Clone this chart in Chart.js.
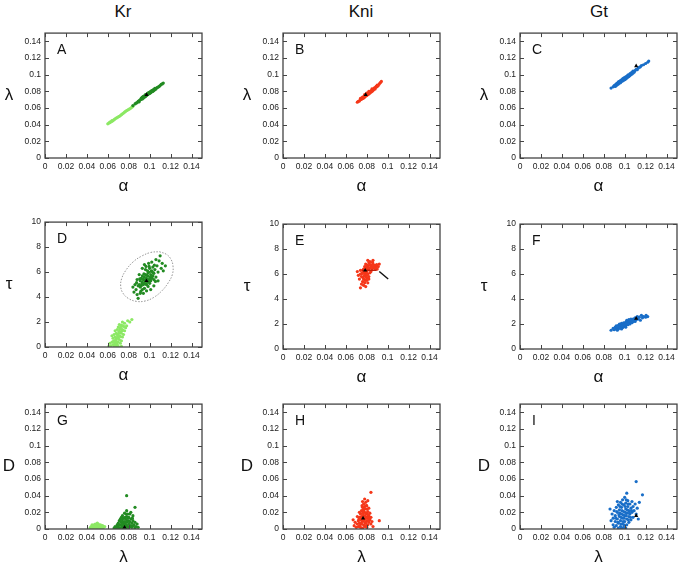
<!DOCTYPE html>
<html>
<head>
<meta charset="utf-8">
<title>Kr / Kni / Gt parameter scatter</title>
<script src="https://cdn.jsdelivr.net/npm/chart.js@4.4.1/dist/chart.umd.min.js"></script>
<style>
  body { margin: 0; background: #fff; width: 682px; height: 568px; overflow: hidden; position: relative;
         font-family: "Liberation Sans", Arial, sans-serif; }
  .col-title { position: absolute; top: 2px; width: 120px; margin-left: -60px; text-align: center;
               font-size: 17px; line-height: 20px; color: #111; }
  canvas { position: absolute; }
</style>
</head>
<body>
<div class="col-title" style="left:123px">Kr</div>
<div class="col-title" style="left:361px">Kni</div>
<div class="col-title" style="left:599px">Gt</div>

<script>
const FONT = '"Liberation Sans", Arial, sans-serif';

// tick labels
const rateTicks = [0, 0.02, 0.04, 0.06, 0.08, 0.1, 0.12, 0.14];
const tauTicks = [0, 2, 4, 6, 8, 10];

// A: alpha vs lambda (Kr)
const krLightA = [[0.060,0.041],[0.061,0.042],[0.062,0.0425],[0.062,0.043],[0.063,0.0435],[0.064,0.044],[0.064,0.045],[0.065,0.045],[0.066,0.046],[0.067,0.047],[0.068,0.048],[0.069,0.0485],[0.070,0.0495],[0.071,0.050],[0.072,0.051],[0.073,0.052],[0.074,0.053],[0.075,0.054],[0.076,0.055],[0.077,0.056],[0.078,0.057],[0.079,0.0575],[0.080,0.0585],[0.081,0.059],[0.082,0.060],[0.083,0.061],[0.084,0.062]];
const krDarkA = [[0.084,0.063],[0.086,0.065],[0.087,0.066],[0.088,0.0665],[0.089,0.068],[0.090,0.069],[0.090,0.0675],[0.091,0.070],[0.092,0.0705],[0.092,0.072],[0.093,0.071],[0.093,0.073],[0.094,0.072],[0.094,0.074],[0.095,0.073],[0.095,0.0745],[0.096,0.074],[0.096,0.076],[0.097,0.075],[0.097,0.0765],[0.098,0.076],[0.098,0.0775],[0.099,0.077],[0.099,0.0785],[0.100,0.0775],[0.100,0.079],[0.101,0.0785],[0.101,0.080],[0.102,0.0795],[0.102,0.081],[0.103,0.080],[0.103,0.0815],[0.104,0.081],[0.104,0.0825],[0.105,0.082],[0.105,0.0835],[0.106,0.083],[0.107,0.0845],[0.108,0.085],[0.109,0.086],[0.110,0.087],[0.111,0.0885],[0.112,0.089],[0.113,0.090]];
const krMarkA = [[0.097,0.076]];

// B: alpha vs lambda (Kni)
const kniB = [[0.071,0.067],[0.072,0.068],[0.073,0.0685],[0.074,0.070],[0.074,0.0715],[0.075,0.0705],[0.075,0.072],[0.076,0.0715],[0.076,0.073],[0.077,0.072],[0.077,0.0735],[0.078,0.073],[0.078,0.0745],[0.078,0.076],[0.079,0.0745],[0.079,0.076],[0.080,0.075],[0.080,0.0765],[0.080,0.078],[0.081,0.076],[0.081,0.0775],[0.082,0.077],[0.082,0.0785],[0.082,0.080],[0.083,0.078],[0.083,0.0795],[0.084,0.079],[0.084,0.0805],[0.085,0.080],[0.085,0.0815],[0.085,0.083],[0.086,0.081],[0.086,0.0825],[0.087,0.0825],[0.087,0.084],[0.088,0.083],[0.088,0.0845],[0.089,0.085],[0.089,0.086],[0.090,0.086],[0.090,0.0875],[0.091,0.087],[0.092,0.089],[0.093,0.0905],[0.094,0.092]];
const kniMarkB = [[0.079,0.076]];

// C: alpha vs lambda (Gt)
const gtC = [[0.087,0.084],[0.089,0.0855],[0.090,0.087],[0.091,0.086],[0.091,0.088],[0.092,0.087],[0.092,0.089],[0.093,0.088],[0.093,0.090],[0.094,0.089],[0.094,0.0915],[0.095,0.090],[0.095,0.092],[0.096,0.0905],[0.096,0.093],[0.097,0.092],[0.097,0.094],[0.098,0.0925],[0.098,0.095],[0.099,0.0935],[0.099,0.096],[0.100,0.094],[0.100,0.0965],[0.101,0.095],[0.101,0.0975],[0.102,0.096],[0.102,0.098],[0.103,0.097],[0.103,0.0995],[0.104,0.098],[0.104,0.100],[0.105,0.099],[0.105,0.101],[0.106,0.100],[0.106,0.102],[0.107,0.101],[0.107,0.103],[0.108,0.102],[0.108,0.1045],[0.109,0.103],[0.110,0.105],[0.111,0.1065],[0.112,0.106],[0.113,0.108],[0.114,0.109],[0.115,0.1095],[0.116,0.111],[0.118,0.112],[0.120,0.1135],[0.122,0.115],[0.123,0.1165]];
const gtMarkC = [[0.111,0.1105]];

// D: alpha vs tau (Kr)
const krLightD = [[0.063,0.1],[0.065,0.2],[0.066,0.05],[0.067,0.3],[0.068,0.1],[0.069,0.2],[0.070,0.05],[0.064,0.4],[0.066,0.5],[0.068,0.45],[0.070,0.4],[0.072,0.3],[0.065,0.7],[0.067,0.8],[0.069,0.7],[0.071,0.6],[0.073,0.5],[0.066,1.0],[0.068,1.1],[0.070,0.95],[0.072,0.85],[0.074,0.8],[0.067,1.3],[0.069,1.4],[0.071,1.25],[0.073,1.1],[0.075,1.0],[0.070,1.6],[0.072,1.5],[0.074,1.4],[0.076,1.3],[0.071,1.8],[0.073,1.75],[0.075,1.65],[0.077,1.55],[0.074,2.0],[0.076,1.9],[0.078,1.7],[0.062,0.3],[0.064,0.9],[0.079,2.1],[0.081,2.0],[0.083,2.2],[0.061,0.05],[0.073,0.05],[0.069,1.0],[0.071,1.1],[0.068,0.65],[0.070,0.75],[0.072,1.2],[0.0675,0.55],[0.0695,0.85],[0.0705,1.2],[0.0715,1.45],[0.0725,1.65],[0.0685,0.35],[0.0665,0.15],[0.0735,1.3],[0.0745,1.7],[0.0655,0.45]];
const krDarkD = [[0.090,5.0],[0.091,5.3],[0.092,4.9],[0.092,5.5],[0.093,5.2],[0.093,5.7],[0.094,5.0],[0.094,5.4],[0.095,5.6],[0.095,5.1],[0.096,5.3],[0.096,5.8],[0.097,5.0],[0.097,5.5],[0.098,5.2],[0.098,5.7],[0.099,5.4],[0.099,6.0],[0.100,5.1],[0.100,5.6],[0.101,5.8],[0.101,5.3],[0.102,5.5],[0.102,6.1],[0.103,5.7],[0.104,5.9],[0.104,5.4],[0.105,6.2],[0.095,4.7],[0.093,4.6],[0.091,4.8],[0.098,6.1],[0.096,6.2],[0.100,6.3],[0.103,6.4],[0.085,4.4],[0.086,5.0],[0.087,4.6],[0.088,5.4],[0.088,4.2],[0.089,4.9],[0.090,5.8],[0.089,3.9],[0.091,4.3],[0.094,4.3],[0.097,4.5],[0.093,6.3],[0.095,6.6],[0.099,6.7],[0.102,6.8],[0.106,5.6],[0.107,6.5],[0.108,6.0],[0.109,6.9],[0.110,7.3],[0.111,6.3],[0.112,6.7],[0.113,6.1],[0.106,7.0],[0.104,4.9],[0.101,4.6],[0.084,4.8],[0.115,6.5],[0.108,5.3],[0.0935,5.45],[0.0965,5.05],[0.0985,5.95],[0.1005,5.45],[0.0955,5.35],[0.0975,5.75],[0.0995,5.25],[0.1015,6.05],[0.0945,5.85],[0.0925,5.05],[0.1035,5.95],[0.0985,4.85],[0.1025,5.65],[0.0905,5.45],[0.0965,6.45],[0.1045,6.55],[0.0875,5.15],[0.0915,4.45],[0.1055,5.25],[0.0995,6.45]];
const krMarkD = [[0.097,5.3]];
const krEllipseD = [[0.1092,7.63],[0.1162,7.41],[0.1204,7.01],[0.1223,6.48],[0.1217,5.81],[0.1178,5.15],[0.1115,4.48],[0.1035,3.95],[0.0955,3.68],[0.0876,3.65],[0.0796,3.89],[0.0742,4.35],[0.0723,4.88],[0.0733,5.49],[0.0774,6.16],[0.0844,6.83],[0.0924,7.28],[0.1010,7.57],[0.1092,7.63]];

// E: alpha vs tau (Kni)
const kniE = [[0.077,6.4],[0.078,6.6],[0.079,6.8],[0.080,6.5],[0.081,6.7],[0.082,6.9],[0.083,6.5],[0.084,6.7],[0.085,6.6],[0.086,6.8],[0.087,6.5],[0.088,6.7],[0.089,6.6],[0.090,6.4],[0.083,7.0],[0.081,7.1],[0.086,7.1],[0.079,6.4],[0.082,6.4],[0.085,6.4],[0.088,6.45],[0.091,6.6],[0.092,6.8],[0.074,6.0],[0.075,5.8],[0.076,6.1],[0.077,5.6],[0.078,5.9],[0.079,6.1],[0.080,5.7],[0.081,6.0],[0.082,5.8],[0.076,5.4],[0.078,5.3],[0.080,5.5],[0.077,5.1],[0.079,5.0],[0.075,5.2],[0.073,5.6],[0.072,5.9],[0.074,6.3],[0.083,6.1],[0.084,6.2],[0.081,5.3],[0.078,6.2],[0.076,6.3],[0.080,6.2],[0.071,6.2],[0.082,5.6],[0.074,4.9],[0.0785,6.0],[0.0795,5.75],[0.0775,5.85],[0.0805,6.35],[0.0835,6.75],[0.0845,6.55],[0.0865,6.6],[0.0815,6.55],[0.0795,6.6],[0.0875,6.7],[0.0775,6.15],[0.0765,5.7],[0.0785,5.5],[0.0755,6.05],[0.0895,6.75],[0.0855,6.95],[0.0805,5.95]];
const kniMarkE = [[0.0785,6.3]];
const kniBarE = [[0.0755,6.3],[0.0895,6.3]];
const kniPointerE = [[0.092,6.2],[0.1005,5.6]];

// F: alpha vs tau (Gt)
const gtF = [[0.087,1.5],[0.089,1.65],[0.090,1.55],[0.091,1.75],[0.092,1.6],[0.092,1.85],[0.093,1.7],[0.094,1.9],[0.094,1.6],[0.095,1.8],[0.095,2.0],[0.096,1.7],[0.096,1.9],[0.097,2.05],[0.097,1.8],[0.098,1.95],[0.098,1.7],[0.099,2.1],[0.099,1.85],[0.100,2.0],[0.100,1.8],[0.101,2.15],[0.101,1.9],[0.102,2.05],[0.102,2.3],[0.103,1.95],[0.103,2.2],[0.104,2.1],[0.104,2.35],[0.105,2.0],[0.105,2.25],[0.106,2.15],[0.106,2.4],[0.107,2.3],[0.107,2.1],[0.108,2.4],[0.108,2.2],[0.109,2.3],[0.110,2.5],[0.110,2.2],[0.111,2.35],[0.112,2.6],[0.113,2.4],[0.114,2.55],[0.115,2.3],[0.116,2.7],[0.117,2.5],[0.118,2.6],[0.120,2.55],[0.122,2.6],[0.093,1.5],[0.097,1.6],[0.101,1.75],[0.0985,1.88],[0.1005,1.92],[0.1025,2.12],[0.1045,2.22],[0.1065,2.28],[0.0965,1.82],[0.0995,1.98],[0.1035,2.02],[0.1055,2.32],[0.1085,2.32],[0.0945,1.75],[0.1015,2.02],[0.1075,2.18],[0.0955,1.68],[0.1095,2.42],[0.1115,2.48],[0.1205,2.7]];
const gtMarkF = [[0.111,2.44]];

// G: lambda vs D (Kr)
const krLightG = [[0.043,0.001],[0.044,0.003],[0.045,0.002],[0.046,0.004],[0.046,0.001],[0.047,0.005],[0.047,0.002],[0.048,0.003],[0.048,0.006],[0.049,0.001],[0.049,0.004],[0.050,0.002],[0.050,0.005],[0.051,0.003],[0.051,0.006],[0.052,0.001],[0.052,0.004],[0.053,0.002],[0.053,0.005],[0.054,0.003],[0.055,0.001],[0.055,0.004],[0.056,0.002],[0.057,0.003],[0.045,0.005],[0.050,0.007],[0.048,0.0005],[0.054,0.0005]];
const krDarkG = [[0.066,0.001],[0.067,0.003],[0.068,0.001],[0.069,0.005],[0.069,0.002],[0.070,0.007],[0.070,0.003],[0.071,0.010],[0.071,0.001],[0.072,0.005],[0.072,0.012],[0.073,0.002],[0.073,0.008],[0.074,0.004],[0.074,0.011],[0.074,0.016],[0.075,0.006],[0.075,0.001],[0.075,0.013],[0.076,0.009],[0.076,0.003],[0.076,0.019],[0.077,0.005],[0.077,0.012],[0.077,0.001],[0.078,0.008],[0.078,0.015],[0.078,0.022],[0.079,0.003],[0.079,0.010],[0.080,0.006],[0.080,0.014],[0.080,0.001],[0.081,0.009],[0.081,0.018],[0.082,0.004],[0.082,0.012],[0.083,0.007],[0.083,0.002],[0.084,0.010],[0.084,0.016],[0.085,0.005],[0.086,0.008],[0.086,0.001],[0.087,0.003],[0.088,0.006],[0.089,0.002],[0.078,0.040],[0.086,0.026],[0.073,0.014],[0.079,0.018],[0.082,0.020],[0.0745,0.008],[0.0765,0.014],[0.0755,0.004],[0.0775,0.009],[0.0785,0.004],[0.0795,0.013],[0.0805,0.009],[0.0735,0.006],[0.0725,0.009],[0.0815,0.003],[0.0775,0.018],[0.0705,0.005],[0.0835,0.013],[0.0765,0.006],[0.0845,0.004]];
const krMarkG = [[0.076,0.002]];

// H: lambda vs D (Kni)
const kniH = [[0.070,0.002],[0.071,0.006],[0.072,0.010],[0.072,0.003],[0.073,0.014],[0.073,0.007],[0.074,0.018],[0.074,0.011],[0.074,0.002],[0.075,0.022],[0.075,0.015],[0.075,0.006],[0.076,0.026],[0.076,0.019],[0.076,0.009],[0.076,0.001],[0.077,0.030],[0.077,0.023],[0.077,0.016],[0.077,0.005],[0.078,0.027],[0.078,0.020],[0.078,0.012],[0.078,0.003],[0.079,0.032],[0.079,0.024],[0.079,0.014],[0.079,0.007],[0.080,0.028],[0.080,0.018],[0.080,0.010],[0.080,0.002],[0.081,0.021],[0.081,0.013],[0.081,0.005],[0.082,0.025],[0.082,0.016],[0.082,0.008],[0.083,0.019],[0.083,0.011],[0.084,0.014],[0.084,0.006],[0.085,0.009],[0.069,0.008],[0.068,0.004],[0.071,0.015],[0.073,0.020],[0.078,0.036],[0.076,0.033],[0.081,0.034],[0.084,0.044],[0.092,0.010],[0.086,0.003],[0.067,0.011],[0.0755,0.011],[0.0765,0.016],[0.0775,0.011],[0.0785,0.016],[0.0795,0.019],[0.0805,0.014],[0.0745,0.014],[0.0735,0.004],[0.0775,0.025],[0.0785,0.008],[0.0795,0.004],[0.0815,0.010],[0.0765,0.022],[0.0755,0.028],[0.0805,0.024],[0.0825,0.013],[0.0745,0.007],[0.0815,0.017],[0.0795,0.028],[0.0725,0.012]];
const kniMarkH = [[0.0765,0.013]];

// I: lambda vs D (Gt)
const gtI = [[0.087,0.010],[0.088,0.018],[0.089,0.005],[0.089,0.013],[0.090,0.022],[0.090,0.002],[0.091,0.009],[0.091,0.016],[0.092,0.026],[0.092,0.004],[0.093,0.012],[0.093,0.020],[0.094,0.029],[0.094,0.001],[0.094,0.007],[0.095,0.015],[0.095,0.023],[0.096,0.032],[0.096,0.010],[0.096,0.003],[0.097,0.018],[0.097,0.026],[0.098,0.006],[0.098,0.013],[0.098,0.035],[0.099,0.021],[0.099,0.029],[0.099,0.002],[0.100,0.009],[0.100,0.016],[0.100,0.038],[0.101,0.024],[0.101,0.031],[0.102,0.005],[0.102,0.012],[0.102,0.019],[0.103,0.027],[0.103,0.034],[0.104,0.015],[0.104,0.022],[0.104,0.008],[0.105,0.030],[0.105,0.018],[0.106,0.025],[0.106,0.011],[0.107,0.020],[0.107,0.033],[0.108,0.014],[0.108,0.027],[0.109,0.022],[0.110,0.030],[0.111,0.018],[0.112,0.025],[0.113,0.012],[0.086,0.024],[0.093,0.033],[0.111,0.057],[0.117,0.041],[0.102,0.043],[0.114,0.032],[0.097,0.001],[0.101,0.001],[0.0955,0.019],[0.0975,0.022],[0.0985,0.017],[0.0995,0.013],[0.1005,0.020],[0.1015,0.016],[0.0965,0.014],[0.0945,0.017],[0.1025,0.023],[0.1035,0.011],[0.1005,0.027],[0.0985,0.009],[0.0975,0.030],[0.1045,0.019],[0.0935,0.008],[0.1055,0.014],[0.0925,0.021],[0.1015,0.035],[0.0995,0.005],[0.1035,0.030],[0.0955,0.027],[0.0915,0.013],[0.1065,0.022],[0.0965,0.006]];
const gtMarkI = [[0.111,0.016]];

const DARK_GREEN = 'rgb(34,139,34)';
const LIGHT_GREEN = 'rgb(140,232,100)';
const RED = 'rgb(245,55,25)';
const BLUE = 'rgb(25,110,200)';

const panels = [
    { letter: 'A', left: 45,  top: 32,  x: 'α', y: 'λ', tau: false,
      sets: [ { data: krMarkA, kind: 'mark' }, { data: krDarkA, color: DARK_GREEN }, { data: krLightA, color: LIGHT_GREEN } ] },
    { letter: 'B', left: 283, top: 32,  x: 'α', y: 'λ', tau: false,
      sets: [ { data: kniMarkB, kind: 'mark' }, { data: kniB, color: RED } ] },
    { letter: 'C', left: 520, top: 32,  x: 'α', y: 'λ', tau: false,
      sets: [ { data: gtMarkC, kind: 'mark' }, { data: gtC, color: BLUE } ] },
    { letter: 'D', left: 45,  top: 221, x: 'α', y: 'τ', tau: true,
      sets: [ { data: krMarkD, kind: 'mark' }, { data: krEllipseD, kind: 'ellipse' }, { data: krDarkD, color: DARK_GREEN }, { data: krLightD, color: LIGHT_GREEN } ] },
    { letter: 'E', left: 283, top: 223, x: 'α', y: 'τ', tau: true,
      sets: [ { data: kniMarkE, kind: 'mark' }, { data: kniPointerE, kind: 'line', color: '#111' }, { data: kniBarE, kind: 'line', color: 'rgb(190,30,10)' }, { data: kniE, color: RED } ] },
    { letter: 'F', left: 520, top: 223, x: 'α', y: 'τ', tau: true,
      sets: [ { data: gtMarkF, kind: 'mark' }, { data: gtF, color: BLUE } ] },
    { letter: 'G', left: 45,  top: 403, x: 'λ', y: 'D', tau: false,
      sets: [ { data: krMarkG, kind: 'mark' }, { data: krDarkG, color: DARK_GREEN }, { data: krLightG, color: LIGHT_GREEN } ] },
    { letter: 'H', left: 283, top: 403, x: 'λ', y: 'D', tau: false,
      sets: [ { data: kniMarkH, kind: 'mark' }, { data: kniH, color: RED } ] },
    { letter: 'I', left: 520, top: 403, x: 'λ', y: 'D', tau: false,
      sets: [ { data: gtMarkI, kind: 'mark' }, { data: gtI, color: BLUE } ] }
];

// box, inward ticks on all sides, panel letter, upright y title
const framePlugin = {
    id: 'frame',
    afterDraw(chart, args, opts) {
        const { ctx, chartArea: a, scales } = chart;
        ctx.save();
        ctx.strokeStyle = '#444';
        ctx.lineWidth = 1;
        ctx.beginPath();
        scales.x.ticks.forEach(t => {
            const px = Math.round(scales.x.getPixelForValue(t.value)) + 0.5;
            ctx.moveTo(px, a.bottom); ctx.lineTo(px, a.bottom - 4);
            ctx.moveTo(px, a.top); ctx.lineTo(px, a.top + 4);
        });
        scales.y.ticks.forEach(t => {
            const py = Math.round(scales.y.getPixelForValue(t.value)) + 0.5;
            ctx.moveTo(a.left, py); ctx.lineTo(a.left + 4, py);
            ctx.moveTo(a.right, py); ctx.lineTo(a.right - 4, py);
        });
        ctx.stroke();
        ctx.lineWidth = 1.3;
        ctx.strokeRect(a.left, a.top, a.right - a.left, a.bottom - a.top);

        ctx.fillStyle = '#111';
        ctx.font = '14px ' + FONT;
        ctx.textAlign = 'left';
        ctx.textBaseline = 'alphabetic';
        ctx.fillText(opts.letter, a.left + 12, a.top + 21);

        ctx.font = '17px ' + FONT;
        ctx.textAlign = 'center';
        ctx.textBaseline = 'middle';
        ctx.fillText(opts.yTitle, a.left - 36, (a.top + a.bottom) / 2);
        ctx.restore();
    }
};

function toPoints(pairs) {
    return pairs.map(p => ({ x: p[0], y: p[1] }));
}

function buildDataset(set, index) {
    const base = { data: toPoints(set.data), order: index };
    if (set.kind === 'mark') {
        return Object.assign(base, { pointStyle: 'triangle', pointRadius: 2.4, backgroundColor: '#000', borderColor: '#000', borderWidth: 0 });
    }
    if (set.kind === 'ellipse') {
        return Object.assign(base, { showLine: true, tension: 0.4, pointRadius: 0, borderColor: '#8a8a8a', borderWidth: 0.9, borderDash: [1.5, 1.5] });
    }
    if (set.kind === 'line') {
        return Object.assign(base, { showLine: true, pointRadius: 0, borderColor: set.color, borderWidth: 1.4 });
    }
    return Object.assign(base, { pointRadius: 1.6, pointBorderWidth: 0, backgroundColor: set.color, borderColor: set.color });
}

function tickAxis(values, max) {
    return {
        type: 'linear', min: 0, max: max, bounds: 'data',
        afterBuildTicks: scale => { scale.ticks = values.map(v => ({ value: v })); },
        grid: { display: false, drawTicks: false },
        border: { display: false },
        ticks: {
            autoSkip: false, maxRotation: 0, padding: 4, color: '#222',
            font: { family: FONT, size: 8.5 },
            callback: v => String(+v.toFixed(2))
        }
    };
}

function renderPanel(panel) {
    const canvas = document.createElement('canvas');
    canvas.width = 206;
    canvas.height = 174;
    canvas.style.left = (panel.left - 45) + 'px';
    canvas.style.top = (panel.top - 8) + 'px';
    canvas.style.width = '206px';
    canvas.style.height = '174px';
    document.body.appendChild(canvas);

    const xAxis = tickAxis(rateTicks, 0.15);
    xAxis.afterFit = scale => { scale.height = 40; };
    xAxis.title = { display: true, text: panel.x, color: '#111', font: { family: FONT, size: 17 }, padding: { top: 0, bottom: 1 } };

    const yAxis = panel.tau ? tickAxis(tauTicks, 10) : tickAxis(rateTicks, 0.15);
    yAxis.afterFit = scale => { scale.width = 45; };

    new Chart(canvas.getContext('2d'), {
        type: 'scatter',
        data: { datasets: panel.sets.map(buildDataset) },
        options: {
            responsive: false,
            animation: false,
            events: [],
            layout: { padding: { top: 8, right: 4, left: 0, bottom: 0 } },
            scales: { x: xAxis, y: yAxis },
            plugins: {
                legend: { display: false },
                tooltip: { enabled: false },
                frame: { letter: panel.letter, yTitle: panel.y }
            }
        },
        plugins: [framePlugin]
    });
}

document.addEventListener('DOMContentLoaded', function() {
    panels.forEach(renderPanel);
});
</script>
</body>
</html>
